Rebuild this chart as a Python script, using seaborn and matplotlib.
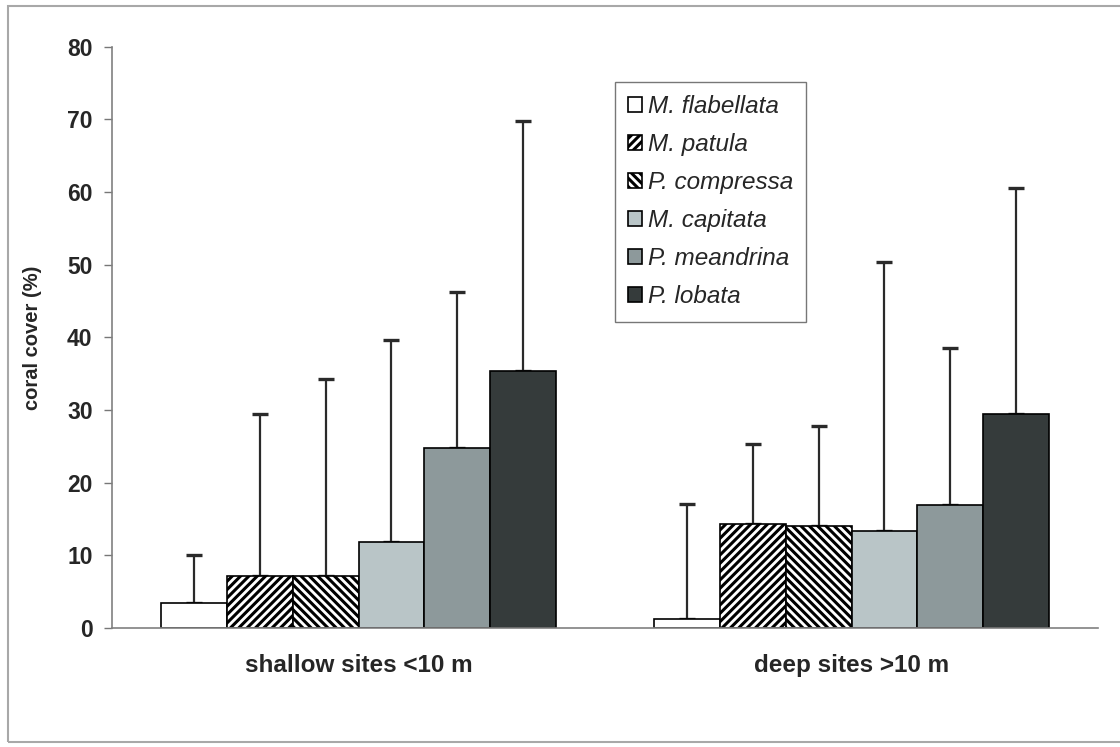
import numpy as np
import pandas as pd
import matplotlib
matplotlib.use("Agg")
import matplotlib.pyplot as plt
from matplotlib.patches import Rectangle
import seaborn as sns

# Coral cover by depth zone (mean and standard deviation, %)
sites = ["shallow sites <10 m", "deep sites >10 m"]
species = ["M. flabellata", "M. patula", "P. compressa",
           "M. capitata", "P. meandrina", "P. lobata"]
shallow_mean = [3.4, 7.2, 7.2, 11.8, 24.8, 35.3]
shallow_sd = [6.6, 22.2, 27.1, 27.8, 21.5, 34.5]
deep_mean = [1.3, 14.3, 14.0, 13.4, 16.9, 29.4]
deep_sd = [15.7, 11.0, 13.8, 37.0, 21.7, 31.1]
y_ticks = [0, 10, 20, 30, 40, 50, 60, 70, 80]

fills = ["#ffffff", "#ffffff", "#ffffff", "#b9c5c7", "#8d999b", "#353b3b"]
hatches = ["", "////", "\\\\\\\\", "", "", ""]

df = pd.DataFrame({
    "site": np.repeat(sites, len(species)),
    "species": species * len(sites),
    "cover": shallow_mean + deep_mean,
    "sd": shallow_sd + deep_sd,
})

sns.set_theme(style="white")
plt.rcParams["font.family"] = ["Liberation Sans", "DejaVu Sans"]
plt.rcParams["hatch.linewidth"] = 2.2
plt.rcParams["hatch.color"] = "black"

fig = plt.figure(figsize=(11.2, 7.47), dpi=100)
ax = fig.add_axes([0.1, 0.1593, 0.8804, 0.7782])

sns.barplot(data=df, x="site", y="cover", hue="species", order=sites,
            hue_order=species, palette=fills, edgecolor="black",
            linewidth=1.2, errorbar=None, width=0.8, saturation=1,
            ax=ax, zorder=2)

bar_groups = list(ax.containers)

# hatching and upper error bars per species
for i, cont in enumerate(bar_groups):
    sub = df[df["species"] == species[i]].set_index("site").loc[sites]
    xs = []
    for p in cont.patches:
        p.set_hatch(hatches[i])
        p.set_edgecolor("black")
        xs.append(p.get_x() + p.get_width() / 2)
    ax.errorbar(xs, sub["cover"].values,
                yerr=[np.zeros(len(xs)), sub["sd"].values],
                fmt="none", ecolor="#2a2a2a", elinewidth=1.6,
                capsize=6, capthick=2.4, zorder=1)

ax.set_ylim(0, 80)
ax.set_xlim(-0.5, 1.5)
ax.set_yticks(y_ticks)
ax.set_yticklabels([str(t) for t in y_ticks], fontsize=16.5, fontweight="bold")
ax.set_xticks([0, 1])
ax.set_xticklabels(sites, fontsize=17.5, fontweight="bold")
ax.set_xticks([-0.5, 0.5, 1.5], minor=True)
ax.tick_params(axis="x", which="major", length=0, pad=19)
ax.tick_params(axis="x", which="minor", length=6, width=1, color="#777777",
               direction="out")
ax.tick_params(axis="y", length=6, width=1, color="#777777", direction="out",
               pad=8, left=True)
ax.set_xlabel("")
ax.set_ylabel("coral cover (%)", fontsize=14.5, fontweight="bold", labelpad=18)

for side in ["top", "right"]:
    ax.spines[side].set_visible(False)
for side in ["left", "bottom"]:
    ax.spines[side].set_color("#808080")
    ax.spines[side].set_linewidth(1.2)

leg = ax.legend(bar_groups, species, loc="upper left",
                bbox_to_anchor=(0.51, 0.94), frameon=True, fancybox=False,
                prop={"style": "italic", "size": 17.5},
                handlelength=0.55, handleheight=0.55, handletextpad=0.25,
                labelspacing=0.62, borderpad=0.55, borderaxespad=0)
leg.get_frame().set_edgecolor("#555555")
leg.get_frame().set_linewidth(1.0)

# outer frame of the figure
fig.patches.append(Rectangle((8 / 1120, 5 / 747), 1.05, 736 / 747,
                             transform=fig.transFigure, fill=False,
                             edgecolor="#a8a8a8", linewidth=1.5))

fig.savefig("out.png", dpi=100, facecolor="white")
